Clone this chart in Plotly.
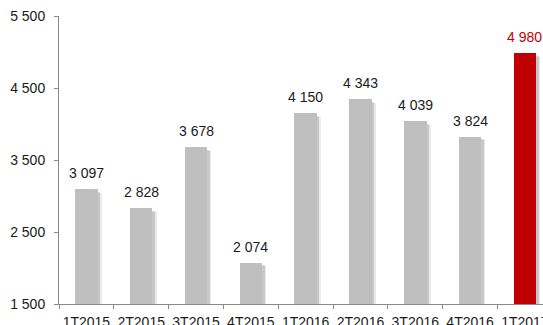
import plotly.graph_objects as go

categories = ["1T2015", "2T2015", "3T2015", "4T2015", "1T2016", "2T2016", "3T2016", "4T2016", "1T2017"]
values = [3097, 2828, 3678, 2074, 4150, 4343, 4039, 3824, 4980]
value_labels = ["3 097", "2 828", "3 678", "2 074", "4 150", "4 343", "4 039", "3 824", "4 980"]
y_tickvals = [1500, 2500, 3500, 4500, 5500]
y_ticktext = ["1 500", "2 500", "3 500", "4 500", "5 500"]

GRAY = "#BFBFBF"
RED = "#C00000"
FONT = "Arial, Liberation Sans, sans-serif"
colors = [GRAY] * (len(values) - 1) + [RED]
label_colors = ["#1a1a1a"] * (len(values) - 1) + [RED]

fig = go.Figure()
# soft shadow behind bars (two layers for a blurred edge)
for dx, dy, alpha in [(0.075, 50, 0.12), (0.045, 35, 0.22)]:
    fig.add_trace(go.Bar(
        x=categories, y=[v - 1500 - dy for v in values], base=1500,
        width=0.41, offset=-0.205 + dx,
        marker=dict(color=f"rgba(80,80,80,{alpha})", line=dict(width=0)),
        hoverinfo="skip", showlegend=False,
    ))
fig.add_trace(go.Bar(
    x=categories, y=[v - 1500 for v in values], base=1500,
    width=0.41, offset=-0.205,
    marker=dict(color=colors, line=dict(width=0)),
    showlegend=False,
))

for c, v, t, col in zip(categories, values, value_labels, label_colors):
    fig.add_annotation(x=c, y=v, text=t, showarrow=False, yanchor="bottom",
                       yshift=6, font=dict(size=14, color=col, family=FONT))

fig.update_layout(
    width=543, height=325,
    margin=dict(l=59, r=0, t=16, b=21),
    paper_bgcolor="white", plot_bgcolor="white",
    barmode="overlay", bargap=0,
    font=dict(family=FONT, color="#1a1a1a"),
    xaxis=dict(
        type="category", range=[-0.5, 8.33],
        tickson="boundaries", ticks="outside", ticklen=4, tickcolor="#888888",
        showline=True, linecolor="#888888", linewidth=1,
        showgrid=False, zeroline=False, automargin=False, tickangle=0,
        tickfont=dict(size=14, color="#1a1a1a"),
        ticklabelstandoff=5,
    ),
    yaxis=dict(
        range=[1500, 5500], tickvals=y_tickvals, ticktext=y_ticktext,
        ticks="outside", ticklen=4, tickcolor="#888888",
        showline=True, linecolor="#888888", linewidth=1,
        showgrid=False, zeroline=False, automargin=False,
        tickfont=dict(size=14, color="#1a1a1a"),
        ticklabelstandoff=6,
    ),
)

fig.write_html("out.html")
